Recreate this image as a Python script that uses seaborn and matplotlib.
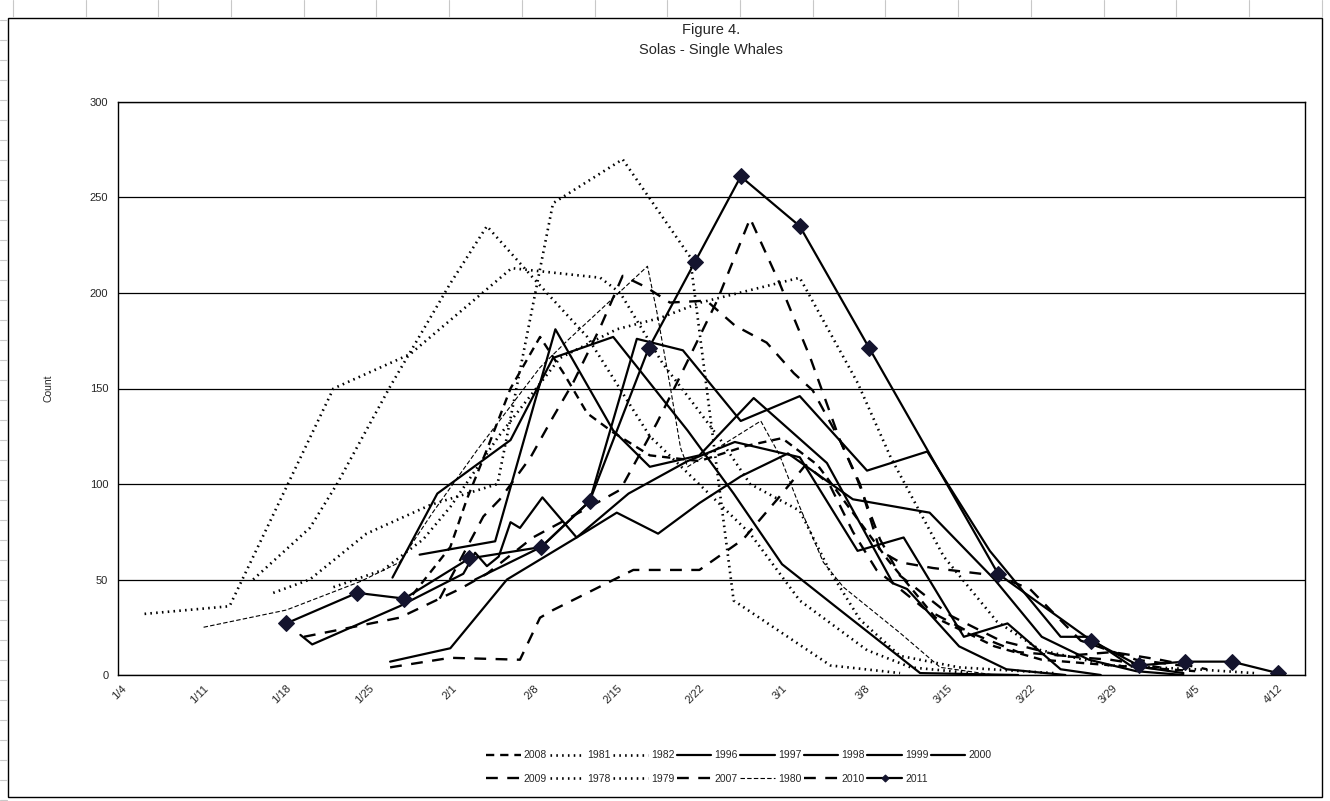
import numpy as np
import pandas as pd
import matplotlib
matplotlib.use("Agg")
import matplotlib.pyplot as plt
from matplotlib.patches import Rectangle
from matplotlib.lines import Line2D
import seaborn as sns

# ---------------- data (x = day of year, y = count) ----------------
tick_days = [4, 11, 18, 25, 32, 39, 46, 53, 60, 67, 74, 81, 88, 95, 102]
tick_labels = ["1/4", "1/11", "1/18", "1/25", "2/1", "2/8", "2/15", "2/22",
               "3/1", "3/8", "3/15", "3/22", "3/29", "4/5", "4/12"]

d2008 = [28.7, 31.9, 33.3, 35, 37, 39.5, 41.5, 43.5, 45.7, 48.8, 53, 57, 60, 63, 66, 69, 73, 78, 82, 88, 95]
v2008 = [42, 67, 92, 118, 150, 177, 158, 137, 127, 115, 112, 120, 124, 110, 85, 60, 30, 15, 8, 5, 2]

d2009 = [31, 34.7, 36.1, 38.7, 40.6, 42.3, 44.6, 46.5, 48.5, 50.5, 53.6, 56, 58.7, 61, 62.6, 64.9, 66.4, 68.3, 70, 74.3, 78.5, 83.6, 87.8, 92]
v2009 = [40, 83, 92, 114, 135, 153, 182, 209, 203, 195, 196, 183, 174, 158, 149, 123, 102, 71, 52, 31, 18, 10, 8, 4]

d2007 = [26.8, 31.9, 37.8, 39.5, 40.6, 47.4, 53, 56.7, 59.6, 62, 64, 66, 68, 72, 76, 80, 84, 88, 92, 96]
v2007 = [4, 9, 8, 30, 34, 55, 55, 71, 92, 110, 100, 75, 55, 35, 22, 12, 10, 12, 8, 3]

d2010 = [19.5, 27.6, 32.7, 35, 38.9, 43.7, 46.3, 49.4, 51.1, 54.5, 57.3, 59.8, 62.4, 64.9, 66.6, 68.3, 70, 72.8, 78.2, 81, 85.3, 90, 95]
v2010 = [20, 30, 45, 53, 72, 88, 97, 132, 153, 196, 239, 205, 166, 123, 100, 65, 59, 56, 52, 45, 18, 8, 4]

d1980 = [11, 18, 24.3, 27.6, 30.4, 34.2, 39.5, 41.8, 48.6, 49.4, 50.5, 51.4, 52, 58.2, 59.8, 61.5, 63.5, 65.2, 70, 73.4, 78]
v1980 = [25, 34, 49, 59, 85, 118, 161, 175, 214, 190, 152, 119, 109, 133, 115, 88, 59, 46, 22, 4, 0]

d1978 = [6, 13.2, 22, 28.5, 37.1, 44.6, 46.3, 49.9, 52.5, 54.8, 57.3, 61.5, 64, 66.6, 70, 75, 83]
v1978 = [32, 36, 150, 168, 213, 208, 200, 163, 142, 123, 100, 86, 55, 29, 10, 4, 1]

d1979 = [15.2, 20, 22.3, 26.8, 31.9, 35, 38.9, 43.5, 48.8, 57.3, 61.5, 67.2, 70.9, 76]
v1979 = [50, 77, 100, 151, 205, 235, 208, 177, 125, 74, 39, 13, 4, 1]

d1981 = [16.9, 20, 24.8, 30.2, 35.9, 40.6, 46.5, 52.2, 55.9, 64.1, 70]
v1981 = [43, 50, 74, 89, 100, 247, 270, 219, 39, 5, 1]

d1982 = [22, 26.2, 29.6, 31.9, 36, 41.2, 46, 49.7, 53.1, 61.5, 66.4, 69.2, 73.7, 78.2, 81.9, 87.8, 95, 100]
v1982 = [46, 55, 71, 88, 125, 166, 181, 187, 195, 208, 153, 114, 62, 28, 13, 5, 3, 1]

d1996 = [27, 30.8, 37, 40.6, 45.7, 52, 55.9, 60, 64.5, 71.7, 80]
v1996 = [51, 95, 123, 166, 177, 128, 95, 58, 36, 1, 0]

d1997 = [29.3, 35.7, 40.8, 45.7, 48.8, 53, 57.6, 63.8, 69.4, 70.6, 75, 79, 84]
v1997 = [63, 70, 181, 128, 109, 115, 145, 111, 48, 45, 15, 3, 0]

d1998 = [19.2, 20.2, 27.6, 33, 34, 35, 36, 37, 37.8, 39.7, 42.6, 47, 52, 56, 61.5, 66.4, 70.3, 75.4, 79.1, 83.6, 87]
v1998 = [21, 16, 36, 53, 64, 57, 62, 80, 77, 93, 72, 95, 112, 122, 114, 65, 72, 20, 27, 3, 0]

d1999 = [26.8, 31.9, 36.7, 42.6, 46, 49.5, 53, 56.5, 60.5, 66, 72.5, 78, 82, 86, 90, 94]
v1999 = [7, 14, 50, 72, 85, 74, 90, 104, 116, 92, 85, 50, 20, 8, 2, 0]

d2000 = [34, 39.6, 43.7, 47.7, 51.6, 56.5, 61.5, 67.2, 72.3, 77.6, 83.6, 85.9, 89.5, 94]
v2000 = [50, 67, 91, 176, 170, 133, 146, 107, 117, 65, 20, 20, 5, 1]

d2011 = [18, 24, 28, 33.5, 39.6, 43.7, 48.7, 52.6, 56.5, 61.5, 67.4, 78.3, 86.2, 90.2, 94.1, 98.1, 102]
v2011 = [27, 43, 40, 61, 67, 91, 171, 216, 261, 235, 171, 53, 18, 5, 7, 7, 1]

# ---------------- styles ----------------
DOT = (0, (0.6, 1.6))
DASH_A = (0, (3.5, 2.5))
DASH_B = (0, (5, 4))
THIN = (0, (4, 2))

series = {
    "2008": (d2008, v2008, dict(ls=DASH_A, lw=1.7)),
    "1981": (d1981, v1981, dict(ls=DOT, lw=1.9)),
    "1982": (d1982, v1982, dict(ls=DOT, lw=1.9)),
    "1996": (d1996, v1996, dict(ls="-", lw=1.6)),
    "1997": (d1997, v1997, dict(ls="-", lw=1.6)),
    "1998": (d1998, v1998, dict(ls="-", lw=1.6)),
    "1999": (d1999, v1999, dict(ls="-", lw=1.6)),
    "2000": (d2000, v2000, dict(ls="-", lw=1.6)),
    "2009": (d2009, v2009, dict(ls=DASH_B, lw=1.7)),
    "1978": (d1978, v1978, dict(ls=DOT, lw=1.9)),
    "1979": (d1979, v1979, dict(ls=DOT, lw=1.9)),
    "2007": (d2007, v2007, dict(ls=DASH_B, lw=1.7)),
    "1980": (d1980, v1980, dict(ls=THIN, lw=0.8)),
    "2010": (d2010, v2010, dict(ls=DASH_B, lw=1.7)),
    "2011": (d2011, v2011, dict(ls="-", lw=1.6, marker="D", ms=8.5,
                                mfc="#14142e", mec="#14142e")),
}
row1 = ["2008", "1981", "1982", "1996", "1997", "1998", "1999", "2000"]
row2 = ["2009", "1978", "1979", "2007", "1980", "2010", "2011"]

# ---------------- figure ----------------
sns.set_theme(style="white")
plt.rcParams["font.family"] = ["Liberation Sans", "DejaVu Sans"]

W, H = 1330, 801
fig = plt.figure(figsize=(W / 100, H / 100), dpi=100)
fig.patch.set_facecolor("white")
ax = fig.add_axes([118 / W, 1 - 675 / H, (1305 - 118) / W, (675 - 102) / H])

for name, (dx, vy, st) in series.items():
    df = pd.DataFrame({"day": dx, "count": vy})
    kw = dict(st)
    ls = kw.pop("ls")
    lw = kw.pop("lw")
    sns.lineplot(data=df, x="day", y="count", ax=ax, color="black",
                 linestyle=ls, linewidth=lw, label=name,
                 estimator=None, sort=False, **kw)

ax.set_xlim(3.75, 104.3)
ax.set_ylim(0, 300)
ax.set_yticks(range(0, 301, 50))
ax.set_xticks(tick_days)
ax.set_xticklabels(tick_labels, rotation=45, ha="right", rotation_mode="anchor",
                   fontsize=8)
ax.tick_params(axis="y", labelsize=8, length=0, pad=7)
ax.tick_params(axis="x", length=0, pad=6)
ax.grid(axis="y", color="black", lw=0.9)
ax.grid(axis="x", visible=False)
ax.set_axisbelow(True)
for sp in ax.spines.values():
    sp.set_color("black")
    sp.set_linewidth(1.0)
ax.set_xlabel("")
ax.set_ylabel("Count", fontsize=7.5, labelpad=26)

# legend, Excel-like row ordering
handles, labels = ax.get_legend_handles_labels()
hmap = dict(zip(labels, handles))
order = []
for i in range(len(row1)):
    order.append(row1[i])
    if i < len(row2):
        order.append(row2[i])
leg = ax.legend([hmap[k] for k in order], order, loc="center",
                bbox_to_anchor=(((490 + 988) / 2 - 118) / (1305 - 118), -(767 - 675) / (675 - 102)),
                ncol=8, frameon=False, fontsize=7.5, handlelength=3.3,
                handletextpad=0.3, columnspacing=0.25, labelspacing=1.25,
                markerscale=0.42)

# titles
fig.text(711 / W, 1 - 30 / H, "Figure 4.", ha="center", va="center", fontsize=10.5)
fig.text(711 / W, 1 - 50 / H, "Solas - Single Whales", ha="center", va="center", fontsize=10.5)

# chart-area border and faint sheet grid lines
fig.patches.append(Rectangle((8 / W, 1 - 797 / H), (1322 - 8) / W, (797 - 18) / H,
                             transform=fig.transFigure, fill=False, ec="black", lw=1.0))
for xg in np.arange(13, W, 72.7):
    fig.add_artist(Line2D([xg / W, xg / W], [1 - 17 / H, 1], transform=fig.transFigure,
                          color="#c8c8c8", lw=0.8))
for yg in np.arange(20, H, 20):
    fig.add_artist(Line2D([0, 7 / W], [1 - yg / H, 1 - yg / H], transform=fig.transFigure,
                          color="#c8c8c8", lw=0.8))

fig.savefig("out.png", dpi=100, facecolor="white")
